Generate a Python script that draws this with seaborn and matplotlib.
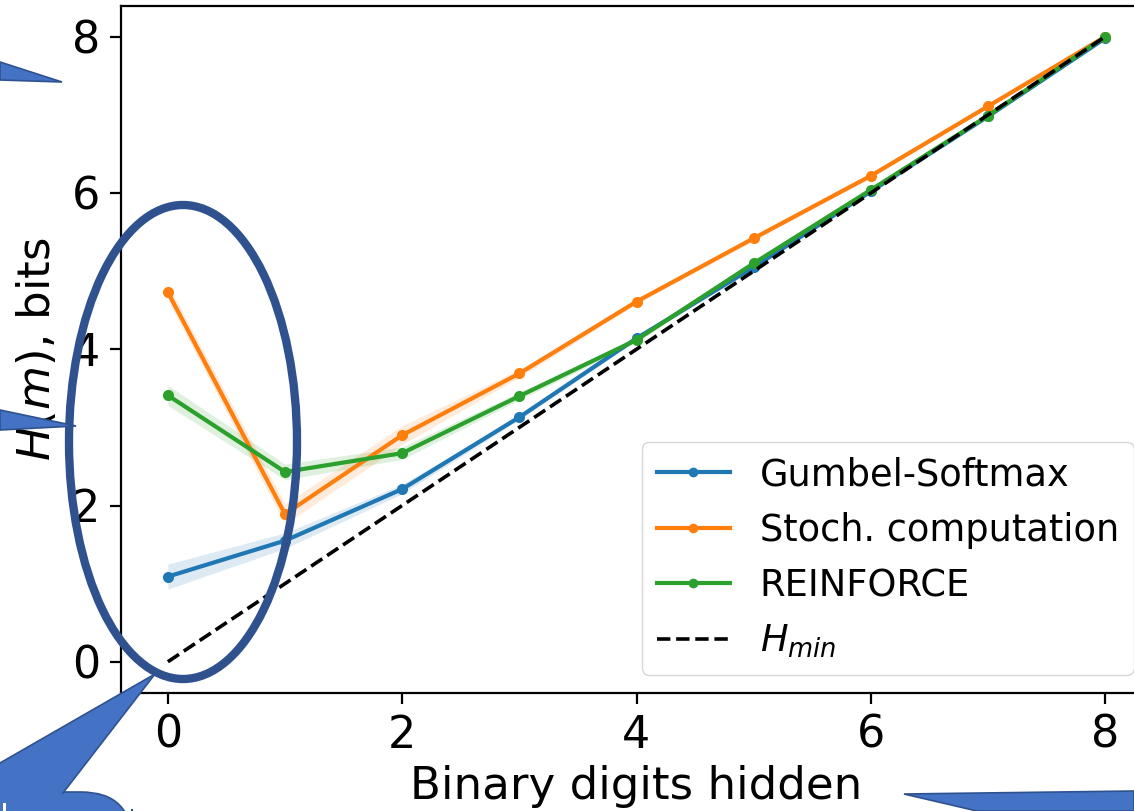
import numpy as np
import pandas as pd
import seaborn as sns
import matplotlib
matplotlib.use("Agg")
import matplotlib.pyplot as plt
from matplotlib.patches import Polygon, Ellipse, FancyBboxPatch, Rectangle

# ---- data -------------------------------------------------------------
digits_hidden = [0, 1, 2, 3, 4, 5, 6, 7, 8]

gumbel_mean = [1.09, 1.55, 2.21, 3.13, 4.14, 5.05, 6.02, 6.98, 7.98]
gumbel_err = [0.16, 0.10, 0.06, 0.03, 0.03, 0.02, 0.02, 0.02, 0.01]

stoch_mean = [4.73, 1.89, 2.90, 3.69, 4.61, 5.42, 6.22, 7.11, 8.00]
stoch_err = [0.10, 0.13, 0.12, 0.05, 0.03, 0.03, 0.02, 0.02, 0.01]

reinforce_mean = [3.41, 2.43, 2.67, 3.40, 4.12, 5.10, 6.04, 6.99, 8.00]
reinforce_err = [0.13, 0.10, 0.08, 0.05, 0.03, 0.03, 0.02, 0.02, 0.01]

h_min = [0, 1, 2, 3, 4, 5, 6, 7, 8]

method_names = ["Gumbel-Softmax", "Stoch. computation", "REINFORCE"]
method_colors = ["#1f77b4", "#ff7f0e", "#2ca02c"]

# ---- figure -----------------------------------------------------------
W, H = 1134, 811
fig = plt.figure(figsize=(W / 100, H / 100), dpi=100)
fig.patch.set_facecolor("white")
ax = fig.add_axes([121 / W, 118 / H, (1152 - 121) / W, (805.5 - 118) / H])

means = [gumbel_mean, stoch_mean, reinforce_mean]
errs = [gumbel_err, stoch_err, reinforce_err]

df = pd.DataFrame({
    "digits": np.tile(digits_hidden, 3),
    "entropy": np.concatenate(means),
    "method": np.repeat(method_names, len(digits_hidden)),
})

sns.lineplot(data=df, x="digits", y="entropy", hue="method",
             hue_order=method_names, palette=method_colors,
             marker="o", markersize=8, markeredgewidth=0,
             linewidth=3, errorbar=None, ax=ax)

for m, e, c in zip(means, errs, method_colors):
    m = np.asarray(m)
    e = np.asarray(e)
    ax.fill_between(digits_hidden, m - e, m + e, color=c, alpha=0.15,
                    linewidth=0)

ax.plot(digits_hidden, h_min, color="black", linestyle="--", linewidth=2.6,
        label=r"$H_{min}$")

ax.set_xlim(-0.4, 8.4)
ax.set_ylim(-0.4, 8.4)
ax.set_xticks([0, 2, 4, 6, 8])
ax.set_yticks([0, 2, 4, 6, 8])
ax.tick_params(labelsize=32, length=8, width=1.6, pad=7)
for s in ax.spines.values():
    s.set_linewidth(1.6)
ax.set_xlabel("Binary digits hidden", fontsize=32.5, labelpad=6)
ax.set_ylabel(r"$H(m)$, bits", fontsize=32.5, labelpad=9)

handles, labels = ax.get_legend_handles_labels()
for h in handles:
    h.set_markersize(7)
ax.legend(handles, labels, loc="lower right", fontsize=26.5, frameon=True,
          handlelength=2.0)

# ---- slide annotations drawn over the chart --------------------------
def fp(x, y):
    return (x / W, 1 - y / H)

fill_blue = "#4472c4"
edge_blue = "#2f528f"

callouts = [
    [(0, 62), (62, 82), (0, 80)],
    [(0, 410), (76, 426), (0, 430)],
    [(904, 794), (1134, 791), (1134, 811), (977, 811)],
]
for pts in callouts:
    fig.add_artist(Polygon([fp(*p) for p in pts], closed=True,
                           transform=fig.transFigure, facecolor=fill_blue,
                           edgecolor=edge_blue, linewidth=1.2, zorder=10))

# bubble at lower left: rounded body plus tail
fig.add_artist(FancyBboxPatch(fp(-60, 860), 192 / W, (860 - 792) / H,
                              boxstyle="round,pad=0,rounding_size=0.045",
                              transform=fig.transFigure, facecolor=fill_blue,
                              edgecolor=edge_blue, linewidth=1.2, zorder=10,
                              mutation_aspect=W / H))
tail = [(155, 674), (0, 763), (0, 811), (70, 811), (63, 793)]
fig.add_artist(Polygon([fp(*p) for p in tail], closed=True,
                       transform=fig.transFigure, facecolor=fill_blue,
                       edgecolor="none", zorder=10.5))
for seg in ([(155, 674), (0, 763)], [(155, 674), (63, 793)]):
    xs, ys = zip(*[fp(*p) for p in seg])
    fig.add_artist(plt.Line2D(xs, ys, transform=fig.transFigure,
                              color=edge_blue, linewidth=1.2, zorder=10.6))
fig.add_artist(Rectangle(fp(3, 811), 2.5 / W, 8 / H,
                         transform=fig.transFigure, facecolor="white",
                         edgecolor="none", zorder=11))

fig.add_artist(Ellipse(fp(183, 442), 228 / W, 474 / H,
                       transform=fig.transFigure, fill=False,
                       edgecolor=edge_blue, linewidth=6, zorder=9))

fig.savefig("out.png", dpi=100)
